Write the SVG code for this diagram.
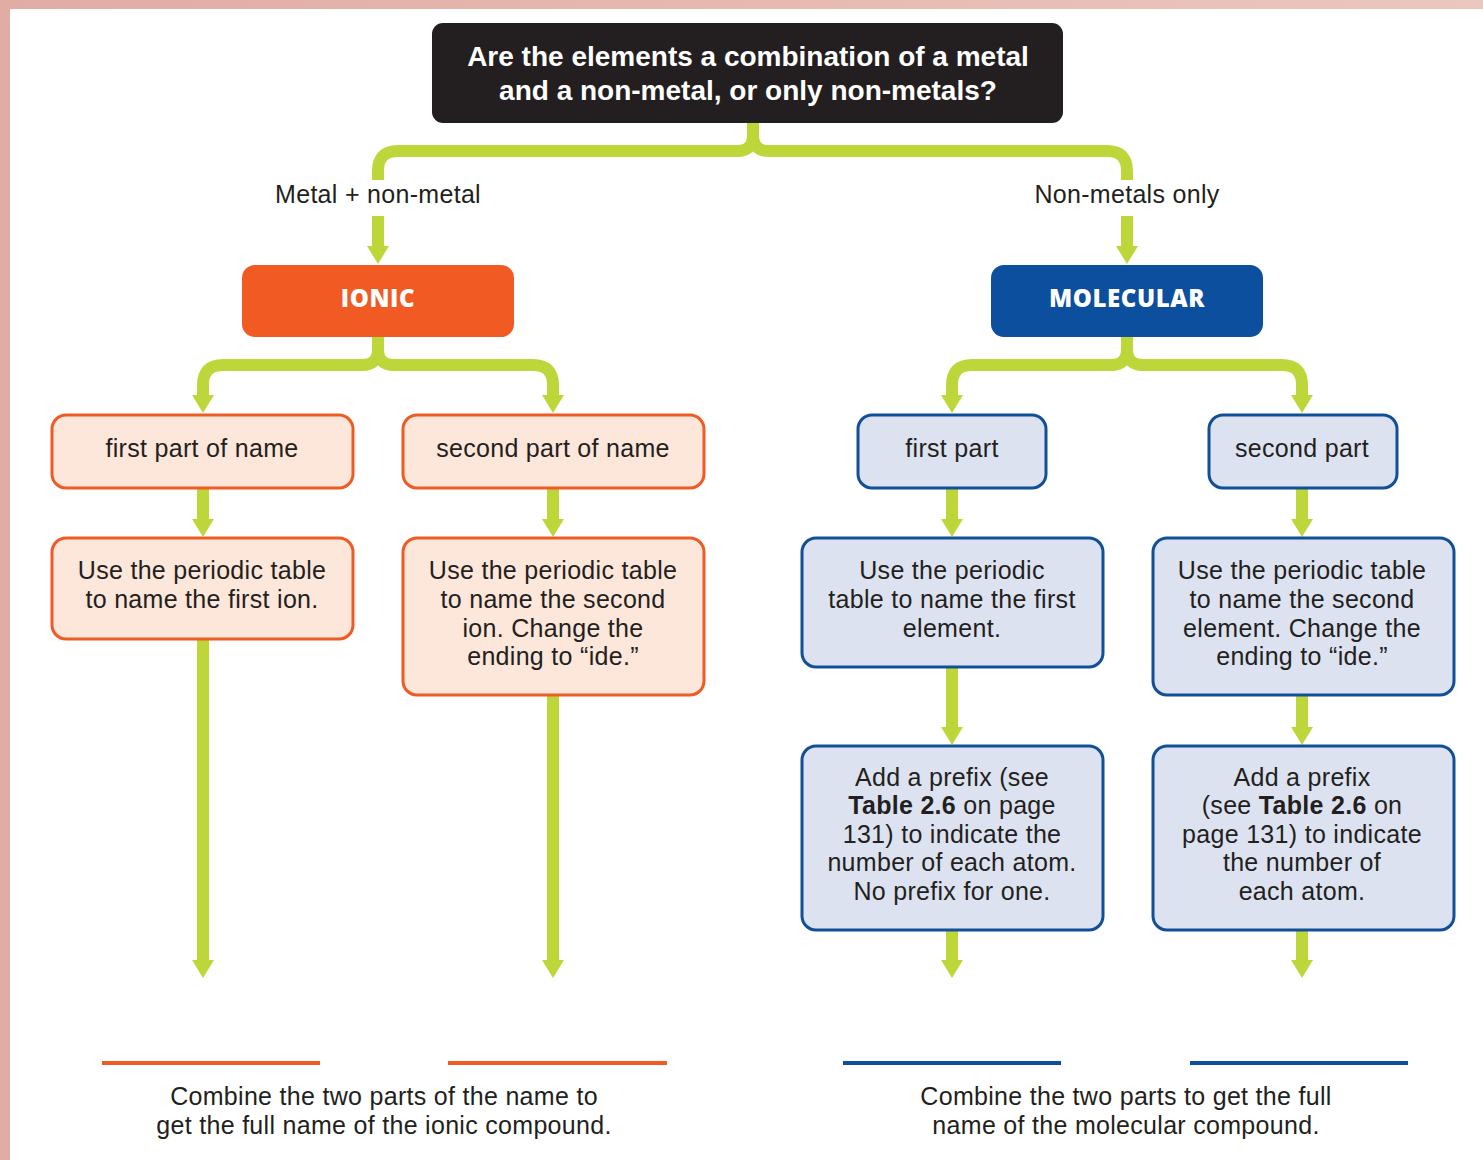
<svg xmlns="http://www.w3.org/2000/svg" width="1483" height="1160" viewBox="0 0 1483 1160">
  <defs>
    <linearGradient id="frameTop" x1="0" y1="0" x2="1" y2="0">
      <stop offset="0" stop-color="#e1aca3"/>
      <stop offset="1" stop-color="#ebc7be"/>
    </linearGradient>
    <marker id="arrow" viewBox="0 -11 18 22" refX="0" refY="0" markerWidth="18" markerHeight="22" markerUnits="userSpaceOnUse" orient="auto">
      <path d="M0,-11 L18,0 L0,11 Z" fill="#bdd73a"/>
    </marker>
    <style>
      .txt { font-family: "Liberation Sans", Arial, sans-serif; font-size: 25px; letter-spacing: 0.3px; fill: #231f20; text-anchor: middle; }
      .head { font-family: "Liberation Sans", Arial, sans-serif; font-size: 28px; font-weight: 700; fill: #ffffff; text-anchor: middle; }
      .title { font-family: "Open Sans", "Liberation Sans", sans-serif; font-size: 24px; font-weight: 800; letter-spacing: 0.6px; fill: #ffffff; text-anchor: middle; }
      .ionbox { fill: #fde6da; stroke: #ef5b25; stroke-width: 3; }
      .molbox { fill: #dde2f0; stroke: #124f99; stroke-width: 3; }
      .wire { fill: none; stroke: #bdd73a; stroke-width: 12; stroke-linejoin: round; }
      .arr { fill: none; stroke: #bdd73a; stroke-width: 12; marker-end: url(#arrow); }
      .bold { font-weight: 700; }
    </style>
  </defs>

  <!-- page background and frame -->
  <rect x="0" y="0" width="1483" height="1160" fill="#ffffff"/>
  <rect x="0" y="0" width="1483" height="9" fill="url(#frameTop)"/>
  <rect x="0" y="0" width="10" height="1160" fill="#e1aca3"/>

  <!-- connectors -->
  <g id="connectors">
    <!-- question to the two branches -->
    <path class="wire" d="M753,123 V135 Q753,151 737,151 H398 Q378,151 378,171 V180"/>
    <path class="wire" d="M753,123 V135 Q753,151 769,151 H1107 Q1127,151 1127,171 V180"/>
    <path class="arr" d="M378,216 V246"/>
    <path class="arr" d="M1127,216 V246"/>
    <!-- ionic split -->
    <path class="arr" d="M378,337 V349 Q378,365 362,365 H223 Q203,365 203,385 V395"/>
    <path class="arr" d="M378,337 V349 Q378,365 394,365 H533 Q553,365 553,385 V395"/>
    <!-- molecular split -->
    <path class="arr" d="M1127,337 V349 Q1127,365 1111,365 H972 Q952,365 952,385 V395"/>
    <path class="arr" d="M1127,337 V349 Q1127,365 1143,365 H1282 Q1302,365 1302,385 V395"/>
    <!-- part boxes to instruction boxes -->
    <path class="arr" d="M203,488 V519"/>
    <path class="arr" d="M553,488 V519"/>
    <path class="arr" d="M952,488 V519"/>
    <path class="arr" d="M1302,488 V519"/>
    <!-- instruction boxes downward -->
    <path class="arr" d="M203,639 V960"/>
    <path class="arr" d="M553,695 V960"/>
    <path class="arr" d="M952,667 V727"/>
    <path class="arr" d="M1302,695 V727"/>
    <path class="arr" d="M952,930 V960"/>
    <path class="arr" d="M1302,930 V960"/>
  </g>

  <!-- question -->
  <g id="question">
    <rect x="432" y="23" width="631" height="100" rx="11" fill="#231f20"/>
    <text class="head" x="748" y="66">Are the elements a combination of a metal<tspan x="748" y="100">and a non-metal, or only non-metals?</tspan></text>
  </g>

  <!-- branch labels -->
  <g id="label-ionic"><text class="txt" x="378" y="203">Metal + non-metal</text></g>
  <g id="label-molecular"><text class="txt" x="1127" y="203">Non-metals only</text></g>

  <!-- compound types -->
  <g id="ionic">
    <rect x="242" y="265" width="272" height="72" rx="13" fill="#f15a22"/>
    <text class="title" x="378" y="307">IONIC</text>
  </g>
  <g id="molecular">
    <rect x="991" y="265" width="272" height="72" rx="13" fill="#0b4f9e"/>
    <text class="title" x="1127" y="307">MOLECULAR</text>
  </g>

  <!-- ionic column -->
  <g id="ionic-first">
    <rect class="ionbox" x="52" y="415" width="301" height="73" rx="14"/>
    <text class="txt" x="202" y="457">first part of name</text>
  </g>
  <g id="ionic-second">
    <rect class="ionbox" x="403" y="415" width="301" height="73" rx="14"/>
    <text class="txt" x="553" y="457">second part of name</text>
  </g>
  <g id="ionic-first-step">
    <rect class="ionbox" x="52" y="538" width="301" height="101" rx="14"/>
    <text class="txt" x="202" y="579">Use the periodic table<tspan x="202" y="608">to name the first ion.</tspan></text>
  </g>
  <g id="ionic-second-step">
    <rect class="ionbox" x="403" y="538" width="301" height="157" rx="14"/>
    <text class="txt" x="553" y="579">Use the periodic table<tspan x="553" y="608">to name the second</tspan><tspan x="553" y="637">ion. Change the</tspan><tspan x="553" y="665">ending to “ide.”</tspan></text>
  </g>

  <!-- molecular column -->
  <g id="molecular-first">
    <rect class="molbox" x="858" y="415" width="188" height="73" rx="14"/>
    <text class="txt" x="952" y="457">first part</text>
  </g>
  <g id="molecular-second">
    <rect class="molbox" x="1209" y="415" width="188" height="73" rx="14"/>
    <text class="txt" x="1302" y="457">second part</text>
  </g>
  <g id="molecular-first-step">
    <rect class="molbox" x="802" y="538" width="301" height="129" rx="14"/>
    <text class="txt" x="952" y="579">Use the periodic<tspan x="952" y="608">table to name the first</tspan><tspan x="952" y="637">element.</tspan></text>
  </g>
  <g id="molecular-second-step">
    <rect class="molbox" x="1153" y="538" width="301" height="157" rx="14"/>
    <text class="txt" x="1302" y="579">Use the periodic table<tspan x="1302" y="608">to name the second</tspan><tspan x="1302" y="637">element. Change the</tspan><tspan x="1302" y="665">ending to “ide.”</tspan></text>
  </g>
  <g id="molecular-first-prefix">
    <rect class="molbox" x="802" y="746" width="301" height="184" rx="14"/>
    <text class="txt" x="952" y="786">Add a prefix (see<tspan x="952" y="814"><tspan class="bold">Table 2.6</tspan> on page</tspan><tspan x="952" y="843">131) to indicate the</tspan><tspan x="952" y="871">number of each atom.</tspan><tspan x="952" y="900">No prefix for one.</tspan></text>
  </g>
  <g id="molecular-second-prefix">
    <rect class="molbox" x="1153" y="746" width="301" height="184" rx="14"/>
    <text class="txt" x="1302" y="786">Add a prefix<tspan x="1302" y="814">(see <tspan class="bold">Table 2.6</tspan> on</tspan><tspan x="1302" y="843">page 131) to indicate</tspan><tspan x="1302" y="871">the number of</tspan><tspan x="1302" y="900">each atom.</tspan></text>
  </g>

  <!-- results -->
  <g id="ionic-result">
    <line x1="102" y1="1063" x2="320" y2="1063" stroke="#f15a22" stroke-width="4"/>
    <line x1="448" y1="1063" x2="667" y2="1063" stroke="#f15a22" stroke-width="4"/>
    <text class="txt" x="384" y="1105">Combine the two parts of the name to<tspan x="384" y="1134">get the full name of the ionic compound.</tspan></text>
  </g>
  <g id="molecular-result">
    <line x1="843" y1="1063" x2="1061" y2="1063" stroke="#0b4f9e" stroke-width="4"/>
    <line x1="1190" y1="1063" x2="1408" y2="1063" stroke="#0b4f9e" stroke-width="4"/>
    <text class="txt" x="1126" y="1105">Combine the two parts to get the full<tspan x="1126" y="1134">name of the molecular compound.</tspan></text>
  </g>
</svg>
